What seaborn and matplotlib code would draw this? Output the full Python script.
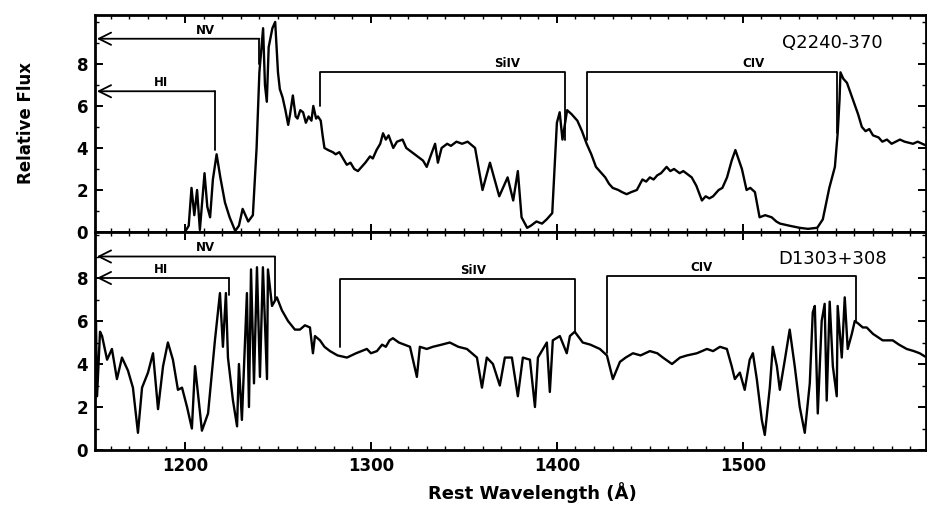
import matplotlib
matplotlib.use("Agg")
import matplotlib.pyplot as plt
from matplotlib.ticker import MultipleLocator
import seaborn as sns
import pandas as pd

# ---------------- data ----------------
# Q2240-370 (top panel): rest wavelength (A) and relative flux
q_wave = [1200, 1202, 1203.5, 1205, 1206.5, 1208, 1210.5, 1212, 1213.5, 1215,
          1217, 1219, 1221.5, 1224, 1227, 1229, 1231, 1234, 1236.5, 1238.5,
          1240, 1242, 1243, 1244, 1245, 1247, 1248.5, 1250, 1251, 1252.5,
          1254, 1255.5, 1256.5, 1258, 1259.5, 1260.5, 1262, 1263.5, 1265, 1266.5,
          1268, 1269, 1270.5, 1271.5, 1273, 1274, 1275, 1277, 1279.5, 1281,
          1283, 1285, 1287, 1289, 1291, 1293, 1295, 1297, 1299.5, 1301,
          1303, 1305, 1306.5, 1308, 1309.5, 1312, 1314, 1317, 1319, 1322,
          1325, 1328, 1330, 1332, 1334.5, 1336, 1338, 1341, 1343, 1346,
          1349, 1352, 1356, 1360, 1364, 1369, 1373.5, 1376.5, 1379, 1381,
          1384, 1386, 1389, 1392, 1394.5, 1397.5, 1400, 1401.5, 1403, 1405.5,
          1408, 1411, 1413.5, 1416, 1418.5, 1421, 1423, 1426, 1428, 1430,
          1433, 1435, 1437.5, 1440, 1443, 1446, 1448, 1450, 1452, 1454,
          1456, 1459, 1461, 1463, 1466, 1468, 1472.5, 1475, 1478, 1480,
          1482, 1484, 1487, 1489, 1491.5, 1494, 1496, 1499.5, 1502, 1504,
          1506.5, 1509, 1512, 1515.5, 1518, 1520, 1525, 1530.5, 1535, 1540,
          1543, 1546.5, 1549.5, 1551, 1552, 1552.5, 1554, 1556, 1558, 1560,
          1562, 1564, 1566, 1568, 1570, 1573, 1575, 1577.5, 1580, 1584.5,
          1587, 1591.5, 1594, 1599]
q_flux = [0.0, 0.3, 2.1, 0.8, 2.0, 0.1, 2.8, 1.2, 0.7, 2.5,
          3.7, 2.6, 1.4, 0.7, 0.05, 0.3, 1.1, 0.5, 0.8, 4.0,
          7.6, 9.7, 7.0, 6.2, 8.8, 9.7, 10.0, 7.6, 6.8, 6.4,
          5.8, 5.1, 5.6, 6.5, 5.5, 5.4, 5.8, 5.7, 5.2, 5.5,
          5.3, 6.0, 5.4, 5.5, 5.3, 4.6, 4.0, 3.9, 3.8, 3.7,
          3.8, 3.5, 3.2, 3.3, 3.0, 2.9, 3.1, 3.3, 3.6, 3.5,
          3.9, 4.2, 4.7, 4.4, 4.6, 4.0, 4.3, 4.4, 4.0, 3.8,
          3.6, 3.4, 3.1, 3.6, 4.2, 3.3, 4.0, 4.2, 4.1, 4.3,
          4.2, 4.3, 4.0, 2.0, 3.3, 1.7, 2.6, 1.5, 2.9, 0.7,
          0.2, 0.3, 0.5, 0.4, 0.6, 0.9, 5.2, 5.7, 4.4, 5.8,
          5.6, 5.3, 4.8, 4.2, 3.7, 3.1, 2.9, 2.6, 2.3, 2.1,
          2.0, 1.9, 1.8, 1.9, 2.0, 2.5, 2.4, 2.6, 2.5, 2.7,
          2.8, 3.1, 2.9, 3.0, 2.8, 2.9, 2.6, 2.2, 1.5, 1.7,
          1.6, 1.7, 2.0, 2.1, 2.6, 3.4, 3.9, 3.0, 2.0, 2.1,
          1.9, 0.7, 0.8, 0.7, 0.5, 0.4, 0.3, 0.2, 0.15, 0.2,
          0.6, 2.1, 3.1, 4.7, 6.3, 7.6, 7.3, 7.1, 6.6, 6.1,
          5.6, 5.0, 4.8, 4.9, 4.6, 4.5, 4.3, 4.4, 4.2, 4.4,
          4.3, 4.2, 4.3, 4.1]

# D1303+308 (bottom panel)
d_wave = [1151.6, 1152.1, 1152.7, 1154.3, 1155.4, 1158.1, 1160.7, 1163.4, 1166.1, 1169.3,
          1172.0, 1174.7, 1176.9, 1180.1, 1182.8, 1185.5, 1188.2, 1190.8, 1193.5, 1196.2,
          1198.4, 1201.1, 1203.7, 1205.4, 1209.1, 1212.4, 1216.1, 1218.8, 1220.4, 1222.0,
          1223.1, 1225.8, 1228.0, 1229.0, 1230.6, 1233.3, 1234.4, 1235.5, 1237.1, 1238.7,
          1240.3, 1241.9, 1244.1, 1244.6, 1246.8, 1249.4, 1252.1, 1255.4, 1259.1, 1261.8,
          1264.5, 1267.2, 1268.8, 1269.9, 1272.6, 1275.0, 1278.0, 1282.0, 1287.1, 1292.0,
          1297.8, 1300.0, 1303.2, 1306.0, 1308.0, 1310.0, 1311.8, 1315.0, 1318.0, 1321.0,
          1324.7, 1326.3, 1330.0, 1333.3, 1338.0, 1342.4, 1347.0, 1351.6, 1357.0, 1359.7,
          1362.3, 1365.6, 1369.3, 1372.0, 1375.8, 1379.0, 1381.7, 1385.5, 1388.2, 1389.8,
          1394.6, 1396.2, 1397.8, 1401.6, 1405.3, 1407.0, 1409.6, 1413.9, 1418.0, 1423.1,
          1426.9, 1430.1, 1433.9, 1437.0, 1440.9, 1445.0, 1450.0, 1454.0, 1457.0, 1461.9,
          1466.2, 1470.0, 1475.3, 1480.7, 1484.0, 1487.7, 1491.4, 1494.0, 1495.7, 1498.4,
          1501.0, 1503.7, 1505.4, 1507.5, 1510.2, 1511.8, 1514.5, 1516.1, 1518.3, 1519.9,
          1522.6, 1525.2, 1527.9, 1530.6, 1533.3, 1536.0, 1537.6, 1538.7, 1540.3, 1542.4,
          1544.0, 1545.1, 1546.7, 1548.4, 1550.5, 1551.0, 1553.2, 1554.8, 1556.4, 1558.6,
          1560.2, 1561.8, 1564.5, 1566.6, 1570.0, 1575.2, 1580.6, 1584.0, 1588.1, 1592.0,
          1595.1, 1598.9]
d_flux = [2.3, 6.0, 2.5, 5.5, 5.3, 4.2, 4.7, 3.3, 4.3, 3.7,
          2.9, 0.8, 2.9, 3.6, 4.5, 1.9, 3.9, 5.0, 4.2, 2.8,
          2.9, 2.0, 1.0, 3.9, 0.9, 1.7, 5.1, 7.3, 4.8, 7.3,
          4.3, 2.3, 1.1, 4.0, 1.4, 7.3, 2.0, 8.4, 3.1, 8.5,
          3.4, 8.5, 3.3, 8.4, 6.7, 7.1, 6.5, 6.0, 5.6, 5.6,
          5.8, 5.7, 4.5, 5.3, 5.1, 4.8, 4.6, 4.4, 4.3, 4.5,
          4.7, 4.5, 4.6, 4.9, 4.8, 5.1, 5.2, 5.0, 4.9, 4.8,
          3.4, 4.8, 4.7, 4.8, 4.9, 5.0, 4.8, 4.7, 4.3, 2.9,
          4.3, 4.0, 3.0, 4.3, 4.3, 2.5, 4.3, 4.2, 2.0, 4.3,
          5.0, 2.7, 5.1, 5.3, 4.5, 5.3, 5.5, 5.0, 4.9, 4.7,
          4.4, 3.3, 4.1, 4.3, 4.5, 4.4, 4.6, 4.5, 4.3, 4.0,
          4.3, 4.4, 4.5, 4.7, 4.6, 4.8, 4.7, 3.9, 3.3, 3.6,
          2.8, 4.2, 4.5, 3.3, 1.4, 0.7, 2.9, 4.8, 3.9, 2.8,
          4.2, 5.6, 3.9, 2.0, 0.8, 3.1, 6.4, 6.7, 1.7, 6.0,
          6.8, 2.3, 6.9, 3.9, 2.5, 6.7, 4.3, 7.1, 4.7, 5.4,
          6.0, 5.9, 5.7, 5.7, 5.4, 5.1, 5.1, 4.9, 4.7, 4.6,
          4.5, 4.3]

# arrow markers (label, line wavelength, level, foot, label wavelength)
q_arrow_names = ["NV", "HI"]
q_arrow_wave = [1240.0, 1216.0]
q_arrow_level = [9.2, 6.7]
q_arrow_foot = [8.0, 3.9]
q_arrow_text_x = [1211, 1187]

d_arrow_names = ["NV", "HI"]
d_arrow_wave = [1248.4, 1223.6]
d_arrow_level = [9.0, 8.0]
d_arrow_foot = [7.0, 7.2]
d_arrow_text_x = [1211, 1187]

# brackets (label, start, end, level, left foot, right foot)
q_br_names = ["SiIV", "CIV"]
q_br_start = [1272.6, 1416.0]
q_br_end = [1404.3, 1550.5]
q_br_level = [7.6, 7.6]
q_br_lfoot = [6.0, 4.4]
q_br_rfoot = [4.4, 4.7]
q_br_text_x = [1373, 1506]

d_br_names = ["SiIV", "CIV"]
d_br_start = [1283.3, 1427.0]
d_br_end = [1410.0, 1560.7]
d_br_level = [7.95, 8.1]
d_br_lfoot = [4.8, 4.5]
d_br_rfoot = [5.5, 6.0]
d_br_text_x = [1355, 1478]

objects = ["Q2240-370", "D1303+308"]
x_ticks = [1200, 1300, 1400, 1500]
y_ticks = [0, 2, 4, 6, 8]

# ---------------- plot ----------------
sns.set_style("ticks")
plt.rcParams["font.family"] = ["DejaVu Sans"]
for key in ("text.color", "axes.labelcolor", "xtick.color", "ytick.color",
            "axes.edgecolor"):
    plt.rcParams[key] = "black"

fig = plt.figure(figsize=(9.28, 5.09), dpi=100)
L = 95 / 928
W = (926 - 95) / 928
ax1 = fig.add_axes([L, 1 - 232 / 509, W, 217 / 509])
ax2 = fig.add_axes([L, 1 - 450 / 509, W, 218 / 509])

xlim = (1151.6, 1598.5)
dfq = pd.DataFrame({"wave": q_wave, "flux": q_flux})
dfd = pd.DataFrame({"wave": d_wave, "flux": d_flux})
sns.lineplot(data=dfq, x="wave", y="flux", ax=ax1, color="black", lw=1.7,
             estimator=None, sort=False)
sns.lineplot(data=dfd, x="wave", y="flux", ax=ax2, color="black", lw=1.7,
             estimator=None, sort=False)

ax1.set_ylim(0, 10.33)
ax2.set_ylim(0, 10.14)

def decorate(ax, anames, awave, alevel, afoot, atx,
             bnames, bstart, bend, blevel, blf, brf, btx, obj, obj_y):
    for n, w, lv, ft, tx in zip(anames, awave, alevel, afoot, atx):
        ax.annotate("", xy=(xlim[0] + 1.0, lv), xytext=(w, lv),
                    arrowprops=dict(arrowstyle="->", lw=1.3, color="black",
                                    mutation_scale=22, shrinkA=0, shrinkB=0))
        ax.plot([w, w], [lv, ft], color="black", lw=1.3)
        ax.text(tx, lv + 0.1, n, ha="center", va="bottom", fontsize=8.5,
                fontweight="bold")
    for n, s, e, lv, lf, rf, tx in zip(bnames, bstart, bend, blevel, blf, brf, btx):
        ax.plot([s, s, e, e], [lf, lv, lv, rf], color="black", lw=1.3)
        ax.text(tx, lv + 0.1, n, ha="center", va="bottom", fontsize=8.5,
                fontweight="bold")
    ax.text(1548, obj_y, obj, ha="center", va="center", fontsize=13)

decorate(ax1, q_arrow_names, q_arrow_wave, q_arrow_level, q_arrow_foot, q_arrow_text_x,
         q_br_names, q_br_start, q_br_end, q_br_level, q_br_lfoot, q_br_rfoot, q_br_text_x,
         objects[0], 9.0)
decorate(ax2, d_arrow_names, d_arrow_wave, d_arrow_level, d_arrow_foot, d_arrow_text_x,
         d_br_names, d_br_start, d_br_end, d_br_level, d_br_lfoot, d_br_rfoot, d_br_text_x,
         objects[1], 8.9)

for ax in (ax1, ax2):
    ax.set_xlim(*xlim)
    ax.set_xticks(x_ticks)
    ax.set_yticks(y_ticks)
    ax.xaxis.set_minor_locator(MultipleLocator(10))
    ax.yaxis.set_minor_locator(MultipleLocator(1))
    ax.tick_params(which="major", direction="in", top=True, right=True,
                   length=6, width=1.4, labelsize=12, pad=5, colors="black")
    ax.tick_params(which="minor", direction="in", top=True, right=True,
                   length=3, width=1.0, colors="black")
    for sp in ax.spines.values():
        sp.set_linewidth(2.0)
        sp.set_color("black")
    ax.set_xlabel("")
    ax.set_ylabel("")
    for lab in ax.get_xticklabels() + ax.get_yticklabels():
        lab.set_fontweight("bold")

ax1.tick_params(labelbottom=False)
ax1.set_ylabel("Relative Flux", fontsize=12, fontweight="bold", labelpad=30,
               color="black")
fig.text(532 / 928, 1 - 493 / 509, "Rest Wavelength (\u00c5)", ha="center",
         va="center", fontsize=13, fontweight="bold", color="black")

fig.savefig("out.png", dpi=100)
